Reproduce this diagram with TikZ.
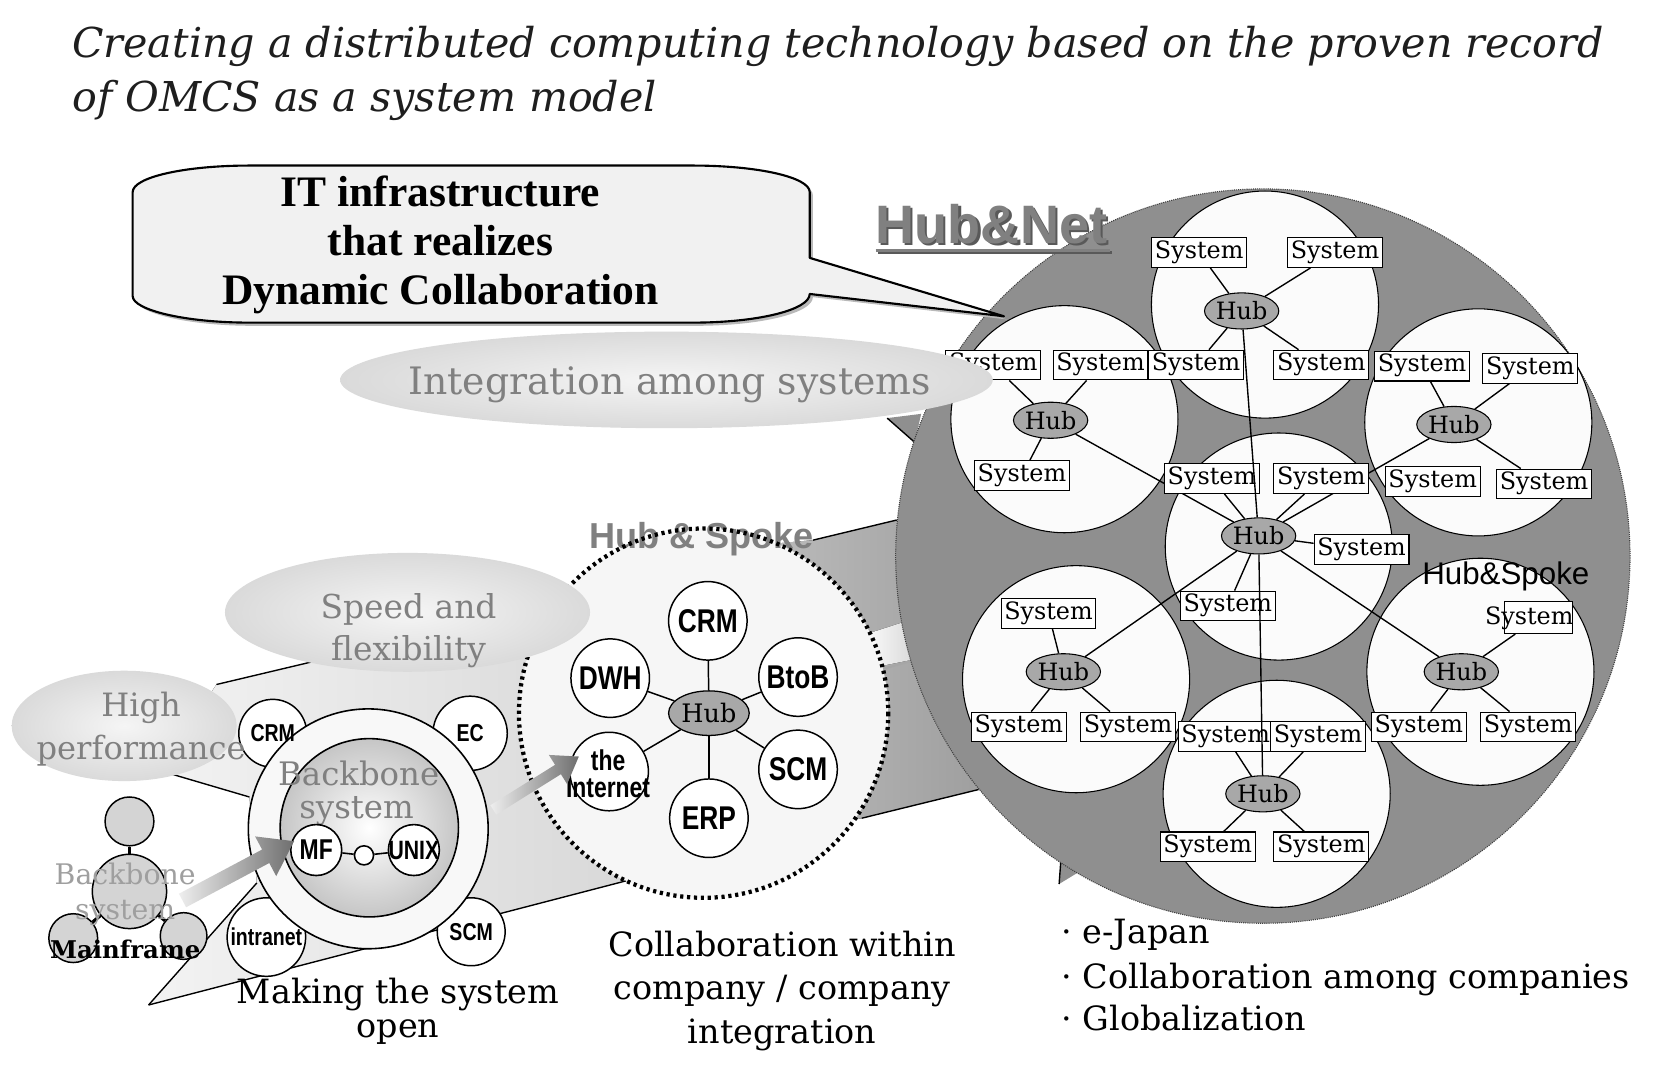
\documentclass[tikz,border=0pt]{standalone}
\usepackage{graphicx}
\usepackage{fontspec}
\setmainfont{DejaVu Serif}
\newfontfamily\tnr{Liberation Serif}
\newfontfamily\ars{Liberation Sans}
\usetikzlibrary{shapes.geometric,shapes.arrows}
\pgfdeclarelayer{back}
\pgfdeclarelayer{lines}
\pgfsetlayers{back,lines,main}
\newcommand\fsz[1]{\fontsize{#1}{#1}\selectfont}
\newcommand\nar[1]{\scalebox{0.8}[1]{#1}}
\newcommand\calloutpath{(235,156) -- (653,156) .. controls (714,156) and (763,167) .. (763,181) -- (763,243) -- (946,298) -- (763,277) .. controls (763,292) and (714,304) .. (653,304) -- (235,304) .. controls (174,304) and (125,292) .. (125,279) -- (125,181) .. controls (125,167) and (174,156) .. (235,156) -- cycle}
\definecolor{hubnetgray}{HTML}{8F8F8F}
\definecolor{hubgray}{HTML}{A8A8A8}
\definecolor{txtgray}{HTML}{808080}
\definecolor{boxfill}{HTML}{F1F1F1}
\definecolor{wcfill}{HTML}{FBFBFB}
\definecolor{mfgray}{HTML}{D4D4D4}
\definecolor{coneAl}{HTML}{F3F3F3}
\definecolor{coneAr}{HTML}{D4D4D4}
\definecolor{coneBl}{HTML}{BEBEBE}
\definecolor{coneBr}{HTML}{9A9A9A}
\definecolor{ellin}{HTML}{F5F5F5}
\definecolor{ellout}{HTML}{DADADA}
\definecolor{arrl}{HTML}{EEEEEE}
\definecolor{arrr}{HTML}{6E6E6E}
\definecolor{hsfill}{HTML}{F6F6F6}
\definecolor{ringfill}{HTML}{F8F8F8}
\definecolor{titlecol}{HTML}{1E1E1E}
\tikzset{
 txt/.style={inner sep=0pt, anchor=base},
 greytxt/.style={txt, text=txtgray},
 sysb/.style={rectangle, draw, fill=white, line width=1pt, font=\fsz{22.5}, inner xsep=3pt, inner ysep=0pt, minimum height=28pt, text height=16pt, text depth=5pt},
 hubn/.style={ellipse, draw, fill=hubgray, line width=1pt, minimum width=70pt, minimum height=34pt, inner sep=0pt, font=\fsz{22.5}},
 wcirc/.style={circle, draw, fill=wcfill, line width=1pt, minimum size=214pt, inner sep=0pt},
 hl/.style={line width=1.3pt},
 spk/.style={circle, draw, fill=white, line width=1.4pt, minimum size=74pt, inner sep=0pt, font=\ars\bfseries\fsz{31}},
 rcirc/.style={circle, draw, fill=white, line width=1.4pt, inner sep=0pt},
 rlab/.style={inner sep=0pt, font=\ars\bfseries\fsz{23}},
 mfc/.style={circle, draw, fill=mfgray, line width=1.4pt, inner sep=0pt},
 garrow/.style={single arrow, inner xsep=0pt, left color=arrl, right color=arrr, single arrow tip angle=70},
 softell/.style={ellipse, inner sep=0pt, inner color=ellin, outer color=ellout},
 coneline/.style={line width=1.3pt},
}
\begin{document}
\begin{tikzpicture}[x=1pt,y=-1pt]
\useasboundingbox (0,0) rectangle (1568,1010);

% ---------------- background layer: cones, Hub&Net disc, white circles
\begin{pgfonlayer}{back}
 \fill[white] (0,0) rectangle (1568,1010);
 \fill[left color=coneAl, right color=coneAr] (150,726) -- (204,645) -- (520,570) -- (663,560) -- (663,800) -- (590,830) -- (140,947) -- (242,832) -- (235,751) -- cycle;
 \draw[coneline] (204,645) -- (520,570);
 \draw[coneline] (150,726) -- (235,751);
 \draw[coneline] (140,947) -- (242,832);
 \draw[coneline] (140,947) -- (590,830);
 \fill[left color=coneBl, right color=coneBr] (700,515) -- (766,509) -- (845,490) -- (960,470) -- (960,750) -- (922,744) -- (812,771) -- (700,795) -- cycle;
 \draw[coneline] (766,509) -- (845,490);
 \draw[coneline] (812,771) -- (922,744);
 \fill[left color=gray!4, right color=gray!28] (818,597) -- (858,584) -- (858,622) -- (818,630) -- cycle;
 \draw[line width=2pt, gray!70] (826,632) -- (858,623);
 \fill[hubnetgray] (836,394) -- (868,390) -- (862,417) -- cycle;
 \draw[coneline] (836,394) -- (861,416);
 \fill[hubnetgray] (998,833) -- (1000,806) -- (1016,822) -- cycle;
 \draw[coneline] (998,833) -- (1000,806);
 \node[circle, minimum size=692pt, inner sep=0pt, fill=hubnetgray, draw=black!75, densely dotted, line width=1pt] (hnet) at (1190,524) {};
 \node[wcirc] (cT) at (1192,287) {};
 \node[wcirc] (cUL) at (1003,395) {};
 \node[wcirc] (cUR) at (1393,398) {};
 \node[wcirc] (cC) at (1205,515) {};
 \node[wcirc] (cLL) at (1014,640) {};
 \node[wcirc] (cLR) at (1395,633) {};
 \node[wcirc] (cB) at (1203,748) {};
\end{pgfonlayer}

% ---------------- Hub&Net systems and hubs
\node[sysb] (sT1) at (1130,238) {System};
\node[sysb] (sT2) at (1258,238) {System};
\node[sysb] (sT3) at (1127,344) {System};
\node[sysb] (sT4) at (1245,344) {System};
\node[sysb] (sUL1) at (936,344) {System};
\node[sysb] (sUL2) at (1037,344) {System};
\node[sysb] (sUL3) at (963,448) {System};
\node[sysb] (sUR1) at (1340,345) {System};
\node[sysb] (sUR2) at (1442,347) {System};
\node[sysb] (sUR3) at (1350,454) {System};
\node[sysb] (sUR4) at (1455,456) {System};
\node[sysb] (sC1) at (1142,451) {System};
\node[sysb] (sC2) at (1245,451) {System};
\node[sysb] (sC3) at (1283,518) {System};
\node[sysb] (sC4) at (1157,571) {System};
\node[sysb] (sLL1) at (988,578) {System};
\node[sysb] (sLL2) at (960,685) {System};
\node[sysb] (sLL3) at (1063,685) {System};
\node[rectangle, draw, fill=white, line width=1pt, minimum width=64pt, minimum height=30pt] (sLR1) at (1450,582) {};
\node[inner sep=0pt, font=\fsz{22.5}] (sLR1t) at (1441,583) {System};
\node[sysb] (sLR2) at (1337,685) {System};
\node[sysb] (sLR3) at (1440,685) {System};
\node[sysb] (sB1) at (1155,694) {System};
\node[sysb] (sB2) at (1242,694) {System};
\node[sysb] (sB3) at (1138,798) {System};
\node[sysb] (sB4) at (1245,798) {System};

\node[hubn] (hT) at (1170,293) {Hub};
\node[hubn] (hUL) at (990,396) {Hub};
\node[hubn] (hUR) at (1370,400) {Hub};
\node[hubn] (hC) at (1186,505) {Hub};
\node[hubn] (hLL) at (1002,633) {Hub};
\node[hubn] (hLR) at (1377,633) {Hub};
\node[hubn] (hB) at (1190,748) {Hub};

\begin{pgfonlayer}{lines}
\foreach \h/\s in {hT/sT1,hT/sT2,hT/sT3,hT/sT4,hUL/sUL1,hUL/sUL2,hUL/sUL3,hUR/sUR1,hUR/sUR2,hUR/sUR4,hC/sC1,hC/sC2,hC/sC3,hC/sC4,hLL/sLL1,hLL/sLL2,hLL/sLL3,hLR/sLR1,hLR/sLR2,hLR/sLR3,hB/sB1,hB/sB2,hB/sB3,hB/sB4,hC/hUL,hC/hUR,hC/hLL,hC/hLR}
  \draw[hl] (\h) -- (\s);
\end{pgfonlayer}
\draw[hl] (hT) -- (hC);
\draw[hl] (hC) -- (hB);

\node[inner sep=0pt, anchor=base west, font=\ars\fsz{29.5}] (hsLabR) at (1340,551) {Hub\&Spoke};

% ---------------- Hub & Spoke (dotted circle)
\node[circle, minimum size=348pt, inner sep=0pt, fill=hsfill] (hsc) at (663,672) {};
\node[spk] (hsCRM) at (667,585) {\nar{CRM}};
\node[spk] (hsDWH) at (575,639) {\nar{DWH}};
\node[spk] (hsBtoB) at (752,638) {\nar{BtoB}};
\node[spk] (hsNet) at (574,727) {};
\node[spk] (hsSCM) at (752,725) {\nar{SCM}};
\node[spk] (hsERP) at (668,771) {\nar{ERP}};
\node[ellipse, draw, fill=hubgray, line width=1.2pt, minimum width=76pt, minimum height=42pt, inner sep=0pt, font=\fsz{24}] (hsHub) at (668,672) {Hub};
\foreach \n in {hsCRM,hsDWH,hsBtoB,hsNet,hsSCM,hsERP}
  \draw[line width=1.4pt] (hsHub) -- (\n);
\node[inner sep=0pt, align=center, font=\ars\bfseries\fontsize{27}{25}\selectfont] (hsNetT) at (573,729) {\nar{the}\\\nar{Internet}};
\node[inner sep=0pt, anchor=base west, font=\ars\bfseries\fsz{34}, text=txtgray] (hsLab) at (555,517) {Hub \& Spoke};
\draw[line width=4pt, dash pattern=on 3pt off 3.5pt] (hsc.center) circle[radius=174];

% ---------------- Backbone ring
\node[rcirc, minimum size=64pt] (rCRM) at (257,691) {};
\node[rcirc, minimum size=70pt] (rEC) at (443,691) {};
\node[rcirc, minimum size=74pt] (rIntra) at (251,883) {};
\node[rcirc, minimum size=64pt] (rSCM) at (444,878) {};
\node[circle, minimum size=226pt, inner sep=0pt, draw, fill=ringfill, line width=1.5pt] (ring) at (347,781) {};
\node[circle, minimum size=168pt, inner sep=0pt, draw, line width=1.5pt, inner color=white, outer color=gray!45] (core) at (348,780) {};
\node[rlab] (rCRMt) at (257,691) {\nar{CRM}};
\node[rlab] (rECt) at (443,691) {\nar{EC}};
\node[rlab] (rIntrat) at (251,883) {\nar{intranet}};
\node[rlab] (rSCMt) at (444,878) {\nar{SCM}};
\node[greytxt, font=\fsz{30.5}] (bb1) at (338,740) {Backbone};
\node[greytxt, font=\fsz{30.5}] (bb2) at (336,771) {system};
\node[circle, draw, fill=white, minimum size=48pt, inner sep=0pt, line width=1.5pt] (mf) at (298,801) {};
\node[circle, draw, fill=white, minimum size=18pt, inner sep=0pt, line width=1.5pt] (mfu) at (343,806) {};
\node[circle, draw, fill=white, minimum size=48pt, inner sep=0pt, line width=1.5pt] (unix) at (390,801) {};
\draw[line width=1.5pt] (mf) -- (mfu) -- (unix);
\node[inner sep=0pt, font=\ars\bfseries\fsz{27}] (mft) at (298,801) {\nar{MF}};
\node[inner sep=0pt, font=\ars\bfseries\fsz{25}] (unixt) at (390,801) {\nar{UNIX}};

% ---------------- Mainframe cluster
\node[mfc, minimum size=46pt] (mfT) at (122,774) {};
\node[mfc, minimum size=70pt] (mfM) at (122,840) {};
\node[mfc, minimum size=46pt] (mfL) at (69,884) {};
\node[mfc, minimum size=44pt] (mfR) at (173,882) {};
\draw[line width=3pt] (mfT) -- (mfM);
\draw[line width=3pt] (mfM) -- (mfL);
\draw[line width=3pt] (mfM) -- (mfR);

% ---------------- gradient arrows
\node[garrow, minimum height=119pt, inner ysep=7pt, single arrow head extend=14pt, rotate=28] (arr1) at (220,823) {};
\node[garrow, minimum height=95pt, inner ysep=5pt, single arrow head extend=11pt, rotate=32] (arr2) at (502,740) {};

\node[greytxt, text=gray!75, font=\fsz{26.7}] (mb1) at (118,833) {Backbone};
\node[greytxt, text=gray!75, font=\fsz{26.7}] (mb2) at (118,866) {system};
\node[txt, font=\bfseries\fsz{23}] (mbm) at (118,903) {Mainframe};

% ---------------- soft ellipses
\node[softell, minimum width=212pt, minimum height=104pt] (ehp) at (117,684) {};
\node[greytxt, font=\fsz{30.3}] (ehp1) at (133,675) {High};
\node[greytxt, font=\fsz{30.3}] (ehp2) at (133,716) {performance};
\node[softell, minimum width=344pt, minimum height=112pt] (esf) at (384,577) {};
\node[greytxt, font=\fsz{31}] (esf1) at (385,583) {Speed and};
\node[greytxt, font=\fsz{31}] (esf2) at (385,622) {flexibility};
\node[softell, minimum width=615pt, minimum height=91pt] (eint) at (628,358) {};
\node[greytxt, font=\fsz{35.6}] (eintt) at (631,372) {Integration among systems};

% ---------------- callout
\fill[gray!55, shift={(3,3)}] \calloutpath;
\draw[fill=boxfill, line width=2pt, line join=round] \calloutpath;
\node[txt, font=\tnr\bfseries\fsz{41}] (it1) at (415,195) {IT infrastructure};
\node[txt, font=\tnr\bfseries\fsz{41}] (it2) at (415,241) {that realizes};
\node[txt, font=\tnr\bfseries\fsz{41}] (it3) at (415,287) {Dynamic Collaboration};

% ---------------- Hub&Net heading
\node[inner sep=0pt, anchor=base west, font=\ars\bfseries\fsz{51}, text=black!65] (hnlabs) at (827,231) {Hub\&Net};
\node[inner sep=0pt, anchor=base west, font=\ars\bfseries\fsz{51}, text=txtgray] (hnlab) at (825,229) {Hub\&Net};
\draw[line width=2.5pt, black!65] (hnlab.base west) ++(2,9) -- ++(221,0);
\draw[line width=2.5pt, txtgray] (hnlab.base west) ++(0,7) -- ++(221,0);

% ---------------- title
\node[inner sep=0pt, anchor=base west, font=\itshape\fsz{38.8}, text=titlecol] (ttl1) at (68,54) {Creating a distributed computing technology based on the proven record};
\node[inner sep=0pt, anchor=base west, font=\itshape\fsz{38.8}, text=titlecol] (ttl2) at (68,105) {of OMCS as a system model};

% ---------------- bottom captions
\node[txt, font=\fsz{31.5}] (cap1a) at (375,946) {Making the system};
\node[txt, font=\fsz{31.5}] (cap1b) at (375,978) {open};
\node[txt, font=\fsz{31.5}] (cap2a) at (737,901) {Collaboration within};
\node[txt, font=\fsz{31.5}] (cap2b) at (737,942) {company / company};
\node[txt, font=\fsz{31.5}] (cap2c) at (737,983) {integration};
\node[inner sep=0pt, anchor=base west, font=\fsz{31.5}] (bl1) at (1000,889) {· e-Japan};
\node[inner sep=0pt, anchor=base west, font=\fsz{31.5}] (bl2) at (1000,931) {· Collaboration among companies};
\node[inner sep=0pt, anchor=base west, font=\fsz{31.5}] (bl3) at (1000,971) {· Globalization};
\end{tikzpicture}
\end{document}
